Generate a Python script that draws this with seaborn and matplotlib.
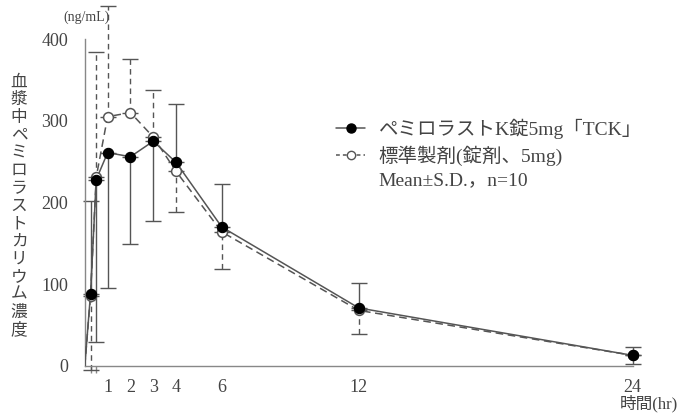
import matplotlib
matplotlib.use("Agg")
import matplotlib.pyplot as plt
import numpy as np
import pandas as pd
import seaborn as sns
from matplotlib.lines import Line2D

# time points (hr) and plasma levels (ng/mL)
time = [0, 0.25, 0.5, 1, 2, 3, 4, 6, 12, 24]
test_mean = [0, 88, 228, 261, 256, 275, 249, 170, 71, 13]
test_sd = [0, 114, 199, 165, 107, 98, 71, 53, 31, 10]
test_side = ["up", "up", "down", "down", "down", "down", "up", "up", "up", "up"]
ref_mean = [0, 86, 231, 305, 310, 280, 238, 164, 68, 13]
ref_sd = [0, 91, 153, 135, 65, 58, 50, 45, 29, 11]
ref_side = ["down", "down", "up", "up", "up", "up", "down", "down", "down", "down"]

test_label = "ペミロラストK錠5mg「TCK」"
ref_label = "標準製剤(錠剤、5mg)"
stat_label = "Mean±S.D.，n=10"
ylabel = "血漿中ペミロラストカリウム濃度"
unit_label = "(ng/mL)"
xlabel = "時間(hr)"
xticks = [1, 2, 3, 4, 6, 12, 24]
yticks = [0, 100, 200, 300, 400]

sns.set_style("white")
plt.rcParams["font.family"] = ["Noto Sans CJK JP", "DejaVu Sans"]
SERIF_JP = ["Liberation Serif", "Noto Sans CJK JP", "DejaVu Sans"]

LINE = "#555555"
TEXT = "#444444"

df = pd.DataFrame({"time": time, "test": test_mean, "ref": ref_mean})
dots = df[df["time"] > 0]

fig = plt.figure(figsize=(6.81, 4.18), dpi=100)
ax = fig.add_axes([84.8 / 681, 52 / 418, 547.9 / 681, 327 / 418])


def side_err(sd, side):
    sd = np.array(sd, dtype=float)
    up = np.where(np.array(side) == "up", sd, 0)
    down = np.where(np.array(side) == "down", sd, 0)
    return np.array([down, up])


# error bars first, then lines and markers on top
eb = ax.errorbar(time[1:], test_mean[1:], yerr=side_err(test_sd, test_side)[:, 1:],
                 fmt="none", ecolor=LINE, elinewidth=1.0, capsize=6, capthick=1.0,
                 zorder=1, clip_on=False)
for c in list(eb[1]) + list(eb[2]):
    c.set_clip_on(False)

eb = ax.errorbar(time[1:], ref_mean[1:], yerr=side_err(ref_sd, ref_side)[:, 1:],
                 fmt="none", ecolor=LINE, elinewidth=1.0, capsize=6, capthick=1.0,
                 zorder=1, clip_on=False)
for c in list(eb[1]) + list(eb[2]):
    c.set_clip_on(False)
eb[2][0].set_linestyle((0, (4, 3)))

sns.lineplot(data=df, x="time", y="ref", ax=ax, color=LINE, lw=1.1,
             linestyle=(0, (5, 3)), zorder=3)
sns.lineplot(data=df, x="time", y="test", ax=ax, color=LINE, lw=1.1, zorder=3)
sns.scatterplot(data=dots, x="time", y="ref", ax=ax, s=50, color="white",
                edgecolor=LINE, linewidth=1.1, zorder=4, clip_on=False)
sns.scatterplot(data=dots, x="time", y="test", ax=ax, s=55, color="black",
                edgecolor="black", linewidth=0.8, zorder=5, clip_on=False)

ax.set_xlim(0, 24)
ax.set_ylim(0, 400)
ax.set_xlabel("")
ax.set_ylabel("")
ax.set_xticks(xticks)
ax.set_xticks([0.25, 0.5], minor=True)
ax.set_yticks(yticks)

for s in ["top", "right"]:
    ax.spines[s].set_visible(False)
for s in ["left", "bottom"]:
    ax.spines[s].set_color("#888888")
    ax.spines[s].set_linewidth(1.0)

ax.tick_params(axis="both", which="both", direction="out", color="#888888",
               length=5, width=1.0, labelcolor=TEXT, labelsize=13)
ax.tick_params(axis="x", which="minor", length=5, bottom=True)
ax.tick_params(axis="x", pad=4)
ax.tick_params(axis="y", pad=7)
for lab in ax.get_xticklabels() + ax.get_yticklabels():
    lab.set_family(["Liberation Serif", "DejaVu Serif"])

# vertical japanese y label, one glyph per row
for i, ch in enumerate(ylabel):
    fig.text(19 / 681, 1 - (82 + i * 17.7) / 418, ch, ha="center", va="center",
             fontsize=12, color=TEXT)

fig.text(86 / 681, 1 - 17 / 418, unit_label, ha="center", va="center",
         fontsize=10, color=TEXT, family=SERIF_JP)
fig.text(649 / 681, 1 - 404 / 418, xlabel, ha="center", va="center",
         fontsize=12, color=TEXT, family=SERIF_JP)

handles = [
    Line2D([], [], color=LINE, lw=1.1, marker="o", markersize=6.5,
           markerfacecolor="black", markeredgecolor="black"),
    Line2D([], [], color=LINE, lw=1.1, linestyle=(0, (2.5, 2)), marker="o",
           markersize=6, markerfacecolor="white", markeredgecolor=LINE),
    Line2D([], [], color="none"),
]
leg = fig.legend(handles, [test_label, ref_label, stat_label],
                 loc="upper left", bbox_to_anchor=(336 / 681, 1 - 119 / 418),
                 frameon=False, prop={"family": SERIF_JP, "size": 14},
                 handlelength=1.5, handletextpad=0.7,
                 labelspacing=0.3, borderpad=0, borderaxespad=0)
for t in leg.get_texts():
    t.set_color(TEXT)

fig.savefig("out.png", dpi=100)
